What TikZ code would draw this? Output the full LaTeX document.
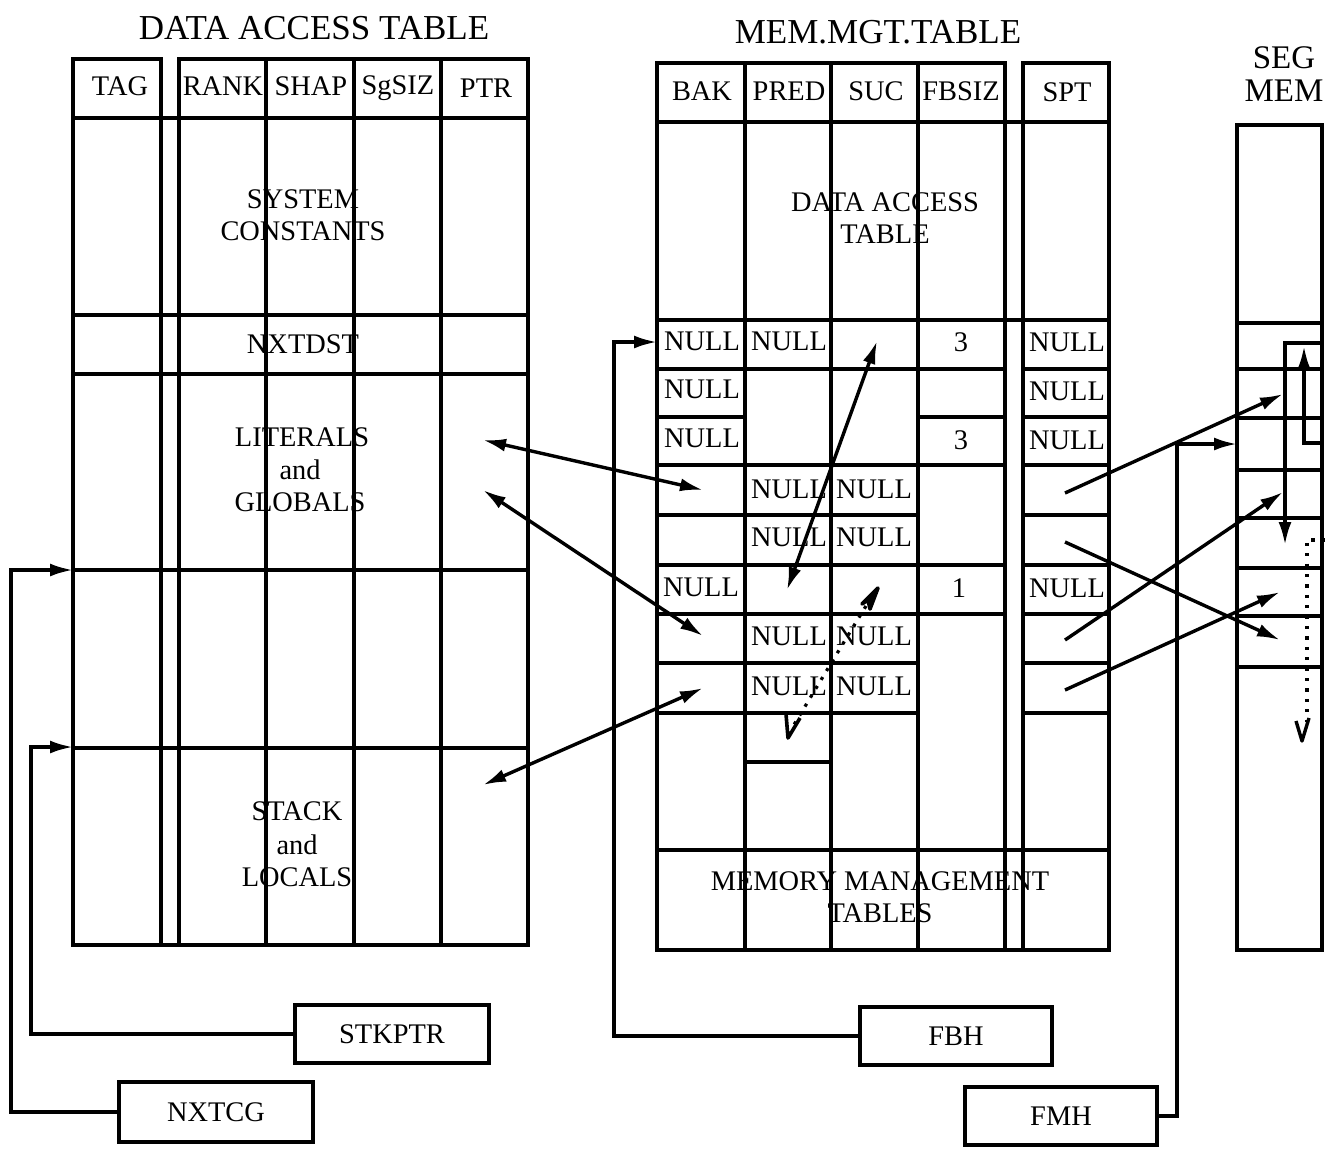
\documentclass[tikz,border=0pt]{standalone}
\usepackage{fontspec}
\setmainfont{Liberation Serif}
\usetikzlibrary{arrows.meta}
\begin{document}
\begin{tikzpicture}[x=0.5pt,y=-0.5pt,
  tbl/.style={line width=2.1pt},
  lbl/.style={font=\fontsize{14.2}{16}\selectfont, inner sep=0pt},
  ttl/.style={font=\fontsize{17.5}{19}\selectfont, inner sep=0pt},
  link/.style={line width=1.7pt, -{Latex[length=11.5pt,width=6.5pt]}},
  both/.style={line width=1.7pt, {Latex[length=11.5pt,width=6.5pt]}-{Latex[length=11.5pt,width=6.5pt]}},
  dots/.style={line width=1.6pt, dash pattern=on 1.6pt off 3.6pt},
  ptrbox/.style={draw, line width=2pt, minimum width=97pt, minimum height=29pt,
     inner sep=0pt, font=\fontsize{14.2}{16}\selectfont}
]
\useasboundingbox (0,0) rectangle (1327,1148);

% ---------------- titles ----------------
\node[ttl] (t1) at (314,28) {DATA ACCESS TABLE};
\node[ttl] (t2) at (878,32) {MEM.MGT.TABLE};
\node[ttl, font=\fontsize{16.5}{18}\selectfont] (t3) at (1284,58) {SEG};
\node[ttl, font=\fontsize{16.5}{18}\selectfont] (t4) at (1284,91) {MEM};

% ---------------- DATA ACCESS TABLE ----------------
\draw[tbl] (73,59) rectangle (161,118);
\draw[tbl] (179,59) rectangle (528,118);
\draw[tbl] (73,118) rectangle (528,945);
\foreach \x in {161,179,266,354,441} \draw[tbl] (\x,59) -- (\x,945);
\foreach \y in {315,374,570,748} \draw[tbl] (73,\y) -- (528,\y);

\node[lbl] (hTAG) at (120,86) {TAG};
\node[lbl] (hRANK) at (223,86) {RANK};
\node[lbl] (hSHAP) at (311,86) {SHAP};
\node[lbl] (hSGS) at (398,88) {SgSIZ};
\node[lbl] (hPTR) at (486,88) {PTR};

\node[lbl] (sc1) at (303,199) {SYSTEM};
\node[lbl] (sc2) at (303,231) {CONSTANTS};
\node[lbl] (nxd) at (303,344) {NXTDST};
\node[lbl] (lg1) at (302,437) {LITERALS};
\node[lbl] (lg2) at (300,470) {and};
\node[lbl] (lg3) at (300,502) {GLOBALS};
\node[lbl] (sl1) at (297,811) {STACK};
\node[lbl] (sl2) at (297,845) {and};
\node[lbl] (sl3) at (297,877) {LOCALS};

% ---------------- MEM.MGT.TABLE ----------------
\draw[tbl] (657,63) rectangle (1005,122);
\draw[tbl] (1023,63) rectangle (1109,122);
\draw[tbl] (657,122) rectangle (1109,950);
\foreach \x in {745,831,918,1005,1023} \draw[tbl] (\x,63) -- (\x,950);
\foreach \y in {320,850} \draw[tbl] (657,\y) -- (1109,\y);
% full rows (BAK..FBSIZ and SPT)
\foreach \y in {369,465,565,614} {
  \draw[tbl] (657,\y) -- (1005,\y);
  \draw[tbl] (1023,\y) -- (1109,\y);
}
% BAK & FBSIZ only
\draw[tbl] (657,417) -- (745,417);
\draw[tbl] (918,417) -- (1005,417);
\draw[tbl] (1023,417) -- (1109,417);
% BAK..SUC and SPT
\foreach \y in {515,663,713} {
  \draw[tbl] (657,\y) -- (918,\y);
  \draw[tbl] (1023,\y) -- (1109,\y);
}
% PRED only
\draw[tbl] (745,762) -- (831,762);

\node[lbl] (hBAK) at (702,91) {BAK};
\node[lbl] (hPRED) at (789,91) {PRED};
\node[lbl] (hSUC) at (876,91) {SUC};
\node[lbl] (hFB) at (961,91) {FBSIZ};
\node[lbl] (hSPT) at (1067,92) {SPT};

\node[lbl] (dat1) at (885,202) {DATA ACCESS};
\node[lbl] (dat2) at (885,234) {TABLE};
\node[lbl] (mmt1) at (880,881) {MEMORY MANAGEMENT};
\node[lbl] (mmt2) at (880,913) {TABLES};

\foreach \x/\y/\n in {702/341/bk1, 702/389/bk2, 702/438/bk3, 701/587/bk4,
   789/341/pr1, 789/489/pr2, 789/537/pr3, 789/636/pr4, 789/686/pr5,
   874/489/su2, 874/537/su3, 874/636/su4, 874/686/su5,
   1067/342/sp1, 1067/391/sp2, 1067/440/sp3, 1067/588/sp4}
  \node[lbl] (\n) at (\x,\y) {NULL};
\node[lbl] (fb1) at (961,342) {3};
\node[lbl] (fb2) at (961,440) {3};
\node[lbl] (fb3) at (959,588) {1};

% ---------------- SEG MEM ----------------
\draw[tbl] (1237,125) rectangle (1322,950);
\foreach \y in {323,369,418,470,518,568,616,667} \draw[tbl] (1237,\y) -- (1322,\y);

% ---------------- pointer boxes ----------------
\node[ptrbox] (stk) at (392,1034) {STKPTR};
\node[ptrbox, minimum height=30pt] (nxc) at (216,1112) {NXTCG};
\node[ptrbox, minimum width=96pt] (fbh) at (956,1036) {FBH};
\node[ptrbox, minimum width=96pt] (fmh) at (1061,1116) {FMH};

% ---------------- anchor coordinates ----------------
\coordinate (datA) at (483,440);
\coordinate (datB) at (483,490);
\coordinate (datC) at (483,785);
\coordinate (mmA) at (703,490);
\coordinate (mmB) at (703,636);
\coordinate (mmC) at (703,688);
\coordinate (mmUp) at (877,341);
\coordinate (mmDn) at (787,590);
\coordinate (spA) at (1065,493);
\coordinate (spB) at (1065,542);
\coordinate (spC) at (1065,640);
\coordinate (spD) at (1065,690);
\coordinate (sgA) at (1283,394);
\coordinate (sgB) at (1280,640);
\coordinate (sgC) at (1283,492);
\coordinate (sgD) at (1280,592);
\coordinate (tagA) at (73,570);
\coordinate (tagB) at (73,747);
\coordinate (bakIn) at (657,342);
\coordinate (segIn) at (1237,444);

% ---------------- connectors ----------------
\draw[both] (datA) -- (mmA);
\draw[both] (datB) -- (mmB);
\draw[both] (datC) -- (mmC);
\draw[both] (mmDn) -- (mmUp);

\draw[link] (spA) -- (sgA);
\draw[link] (spB) -- (sgB);
\draw[link] (spC) -- (sgC);
\draw[link] (spD) -- (sgD);

\draw[link] (nxc.west) -| (11,570) -- (tagA);
\draw[link] (stk.west) -| (31,747) -- (tagB);
\draw[link] (fbh.west) -| (614,342) -- (bakIn);
\draw[link] (fmh.east) -| (1177,444) -- (segIn);

% arrows inside SEG MEM
\coordinate (sgR1) at (1322,343);
\coordinate (sgR2) at (1322,443);
\coordinate (sgR3) at (1325,540);
\draw[link] (sgR1) -- (1285,343) -- (1285,545);
\draw[link] (sgR2) -- (1304,443) -- (1304,346);
\draw[dots] (sgR3) -- (1307,540) -- (1307,722);
\draw[line width=1.7pt, line join=round] (1296,721) -- (1302,741) -- (1309,718);

% dotted hand arrow in MEM.MGT.TABLE
\coordinate (hdA) at (866,606);
\coordinate (hdB) at (792,728);
\draw[dots] (hdA) .. controls (848,635) and (815,690) .. (hdB);
\draw[line width=1.8pt, line join=round, fill] (878,588) -- (862,604) -- (868,600) -- (870,609) -- cycle;
\draw[line width=1.8pt, line join=round] (786,714) -- (788,738) -- (800,718);

\end{tikzpicture}
\end{document}
